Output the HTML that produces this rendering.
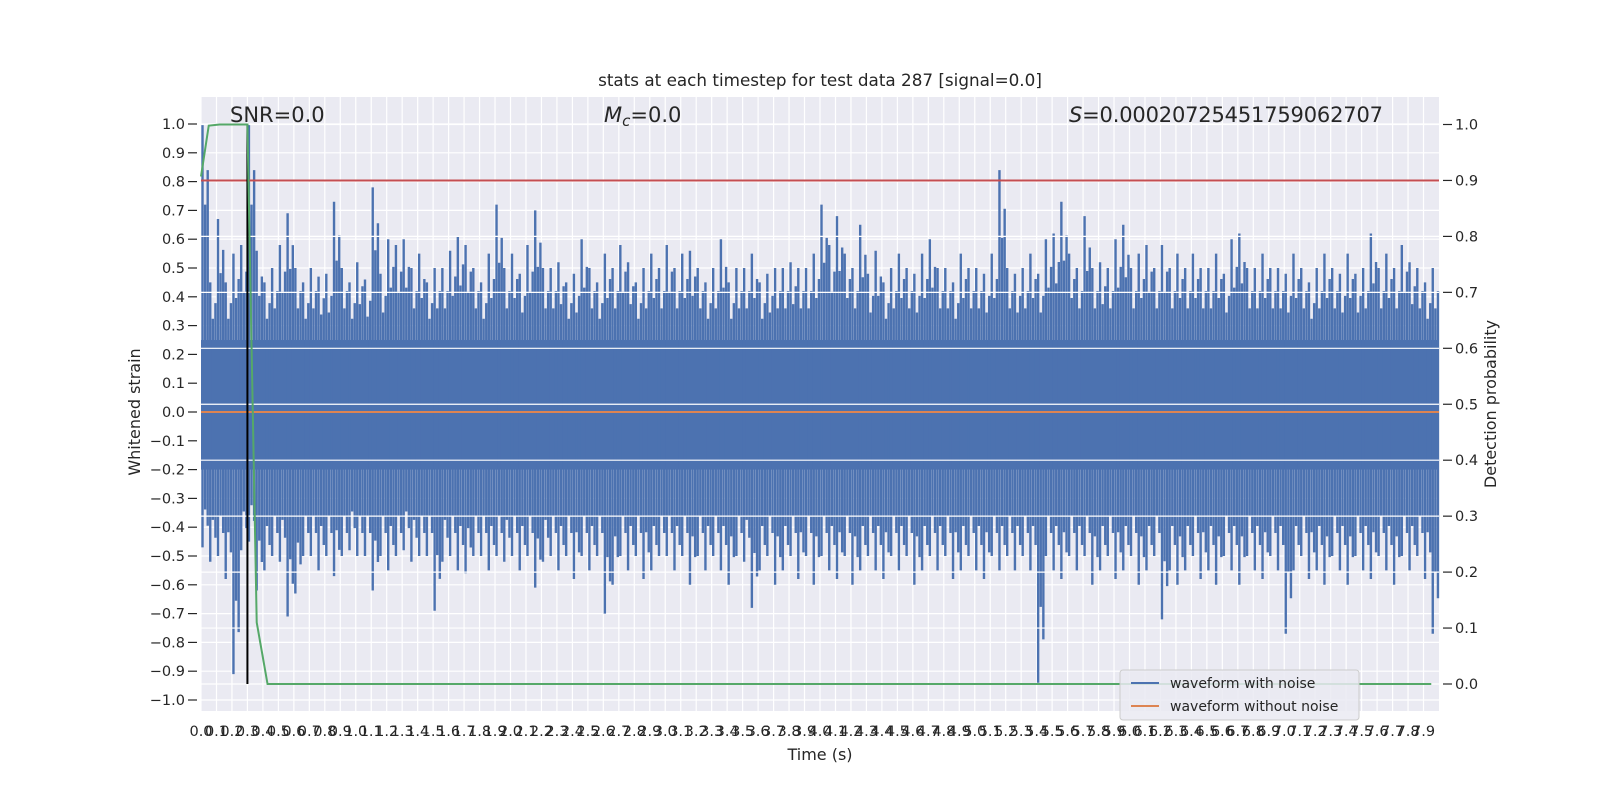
<!DOCTYPE html>
<html><head><meta charset="utf-8"><style>
body{margin:0;background:#fff;}
svg text{font-family:"DejaVu Sans","Liberation Sans",sans-serif;fill:#262626;}
</style></head><body>
<svg id="chart" width="1600" height="800" xmlns="http://www.w3.org/2000/svg">
<rect x="201" y="97" width="1238" height="614" fill="#EAEAF2"/>
<g id="gridL"></g><g id="blue"></g><g id="orange"></g><g id="gridR"></g><g id="rightSeries"></g><g id="axes"></g>
<text x="820" y="86" text-anchor="middle" font-size="16.8">stats at each timestep for test data 287 [signal=0.0]</text>
<text x="230" y="122" font-size="21">SNR=0.0</text>
<text x="604" y="122" font-size="21"><tspan font-style="italic">M</tspan><tspan font-style="italic" font-size="15" dy="4">c</tspan><tspan dy="-4">=0.0</tspan></text>
<text x="1069" y="122" font-size="21" textLength="314"><tspan font-style="italic">S</tspan>=0.00020725451759062707</text>
<text x="820" y="760" text-anchor="middle" font-size="16">Time (s)</text>
<text transform="translate(140,412) rotate(-90)" text-anchor="middle" font-size="16">Whitened strain</text>
<text transform="translate(1496,404) rotate(-90)" text-anchor="middle" font-size="16">Detection probability</text>
<g>
<rect x="1120" y="670" width="239" height="50" rx="3" fill="#EAEAF2" fill-opacity="0.85" stroke="#cccccc"/>
<line x1="1131" y1="683" x2="1159" y2="683" stroke="#4C72B0" stroke-width="2"/>
<text x="1170" y="688" font-size="14">waveform with noise</text>
<line x1="1131" y1="706" x2="1159" y2="706" stroke="#DD8452" stroke-width="2"/>
<text x="1170" y="711" font-size="14">waveform without noise</text>
</g>
</svg>
<script>
const binTimes=[];for(let i=0;i<160;i++)binTimes.push(i*0.05);
const noiseHigh=[1.0,0.45,0.67,0.45,0.55,0.58,1.0,0.56,0.45,0.5,0.58,0.69,0.5,0.45,0.5,0.47,0.48,0.73,0.5,0.45,0.52,0.46,0.78,0.48,0.6,0.58,0.6,0.5,0.55,0.45,0.5,0.5,0.56,0.61,0.58,0.5,0.45,0.55,0.72,0.5,0.55,0.48,0.58,0.7,0.5,0.5,0.52,0.45,0.48,0.6,0.5,0.45,0.55,0.5,0.58,0.52,0.45,0.5,0.55,0.5,0.58,0.5,0.55,0.56,0.5,0.45,0.5,0.6,0.45,0.5,0.5,0.55,0.45,0.48,0.5,0.5,0.52,0.5,0.5,0.55,0.72,0.58,0.68,0.55,0.5,0.65,0.48,0.56,0.45,0.5,0.55,0.5,0.48,0.55,0.6,0.5,0.5,0.45,0.55,0.5,0.5,0.48,0.55,0.84,0.5,0.48,0.5,0.55,0.48,0.6,0.62,0.73,0.55,0.5,0.68,0.5,0.52,0.5,0.6,0.65,0.5,0.55,0.58,0.5,0.58,0.5,0.55,0.5,0.55,0.5,0.5,0.55,0.48,0.6,0.62,0.5,0.5,0.55,0.5,0.5,0.48,0.55,0.5,0.45,0.5,0.55,0.5,0.48,0.55,0.48,0.5,0.62,0.5,0.55,0.5,0.58,0.52,0.5,0.45,0.5];
const noiseLow=[-0.47,-0.52,-0.5,-0.58,-0.91,-0.48,-0.45,-0.62,-0.55,-0.5,-0.52,-0.71,-0.63,-0.5,-0.5,-0.55,-0.5,-0.57,-0.5,-0.48,-0.5,-0.5,-0.62,-0.5,-0.55,-0.5,-0.48,-0.52,-0.5,-0.5,-0.69,-0.52,-0.5,-0.55,-0.56,-0.5,-0.5,-0.55,-0.5,-0.52,-0.5,-0.55,-0.5,-0.61,-0.52,-0.5,-0.55,-0.5,-0.58,-0.5,-0.55,-0.5,-0.7,-0.6,-0.5,-0.55,-0.5,-0.58,-0.55,-0.5,-0.5,-0.55,-0.5,-0.6,-0.5,-0.55,-0.5,-0.55,-0.6,-0.5,-0.52,-0.68,-0.55,-0.5,-0.6,-0.55,-0.5,-0.58,-0.5,-0.6,-0.5,-0.55,-0.58,-0.5,-0.6,-0.55,-0.5,-0.55,-0.58,-0.5,-0.55,-0.5,-0.6,-0.55,-0.5,-0.55,-0.5,-0.58,-0.55,-0.5,-0.55,-0.58,-0.5,-0.55,-0.5,-0.55,-0.5,-0.55,-0.94,-0.5,-0.55,-0.58,-0.5,-0.55,-0.5,-0.6,-0.55,-0.5,-0.58,-0.55,-0.5,-0.6,-0.55,-0.5,-0.72,-0.55,-0.6,-0.55,-0.5,-0.58,-0.55,-0.6,-0.5,-0.55,-0.6,-0.5,-0.55,-0.58,-0.5,-0.55,-0.77,-0.55,-0.5,-0.58,-0.55,-0.6,-0.5,-0.55,-0.6,-0.5,-0.55,-0.58,-0.5,-0.55,-0.6,-0.5,-0.55,-0.5,-0.58,-0.77];
const coreBand=[-0.2,0.25];
const probTimes=[0,0.05,0.12,0.30,0.36,0.43,7.95];
const probValues=[0.907,0.998,1.0,1.0,0.11,0.0,0.0];
const threshold=[0.9];
const peakTime=[0.30];
const cleanValue=[0.0];
const xTicks=[];for(let i=0;i<80;i++)xTicks.push(+(i*0.1).toFixed(1));
const yTicks=[];for(let i=-10;i<=10;i++)yTicks.push(+(i*0.1).toFixed(1));
const y2Ticks=[];for(let i=0;i<=10;i++)y2Ticks.push(+(i*0.1).toFixed(1));

const NS='http://www.w3.org/2000/svg';
const X=t=>201+t*(1238/8);
const Y=v=>412-v*288;
const Y2=v=>684-v*559.5;
function mk(tag,attrs,parent){const e=document.createElementNS(NS,tag);for(const k in attrs)e.setAttribute(k,attrs[k]);document.getElementById(parent).appendChild(e);return e;}

yTicks.forEach(v=>{
 let g=mk('line',{x1:201,x2:1439,y1:Y(v),y2:Y(v),stroke:'#fff','stroke-width':1.2},'gridL');
 
 
 let t=mk('line',{x1:188,x2:197,y1:Y(v),y2:Y(v),stroke:'#262626','stroke-width':1.2},'axes');
 
 
 let l=mk('text',{x:185,y:Y(v)+5,'text-anchor':'end','font-size':14.5},'axes');
 l.textContent=(v<0?'\u2212':'')+Math.abs(v).toFixed(1);
 
 
});
xTicks.forEach(v=>{
 let g=mk('line',{x1:X(v),x2:X(v),y1:97,y2:711,stroke:'#fff','stroke-width':1.2},'gridL');
 
 
 let l=mk('text',{x:X(v),y:736,'text-anchor':'middle','font-size':14.5},'axes');
 l.textContent=v.toFixed(1);
 
 
});
let core=mk('rect',{x:201,y:Y(coreBand[1]),width:1238,height:Y(coreBand[0])-Y(coreBand[1]),fill:'#4C72B0'},'blue');


const subs=[[0,1],[2.6,0.72],[5.2,0.84]];
binTimes.forEach((t,i)=>{
 subs.forEach(s=>{
  const xc=X(t)+1.5+s[0];
  let b=mk('line',{x1:xc,x2:xc,y1:Y(noiseHigh[i]*s[1]),y2:Y(noiseLow[i]*s[1]),stroke:'#4C72B0','stroke-width':2.4},'blue');
  
  
 });
});
let o=mk('line',{x1:201,x2:1439,y1:Y(cleanValue[0]),y2:Y(cleanValue[0]),stroke:'#DD8452','stroke-width':2},'orange');


y2Ticks.forEach(v=>{
 let g=mk('line',{x1:201,x2:1439,y1:Y2(v),y2:Y2(v),stroke:'#fff','stroke-width':1.2},'gridR');
 
 
 let t=mk('line',{x1:1443,x2:1452,y1:Y2(v),y2:Y2(v),stroke:'#262626','stroke-width':1.2},'axes');
 
 
 let l=mk('text',{x:1455,y:Y2(v)+5,'font-size':14.5},'axes');
 l.textContent=v.toFixed(1);
 
 
});
let r=mk('line',{x1:201,x2:1439,y1:Y2(threshold[0]),y2:Y2(threshold[0]),stroke:'#C44E52','stroke-width':2},'rightSeries');


let bl=mk('line',{x1:X(peakTime[0]),x2:X(peakTime[0]),y1:Y2(1),y2:Y2(0),stroke:'#000','stroke-width':2},'rightSeries');


let gp=mk('polyline',{points:probTimes.map((t,i)=>X(t)+','+Y2(probValues[i])).join(' '),fill:'none',stroke:'#55A868','stroke-width':2},'rightSeries');


</script>
</body></html>
